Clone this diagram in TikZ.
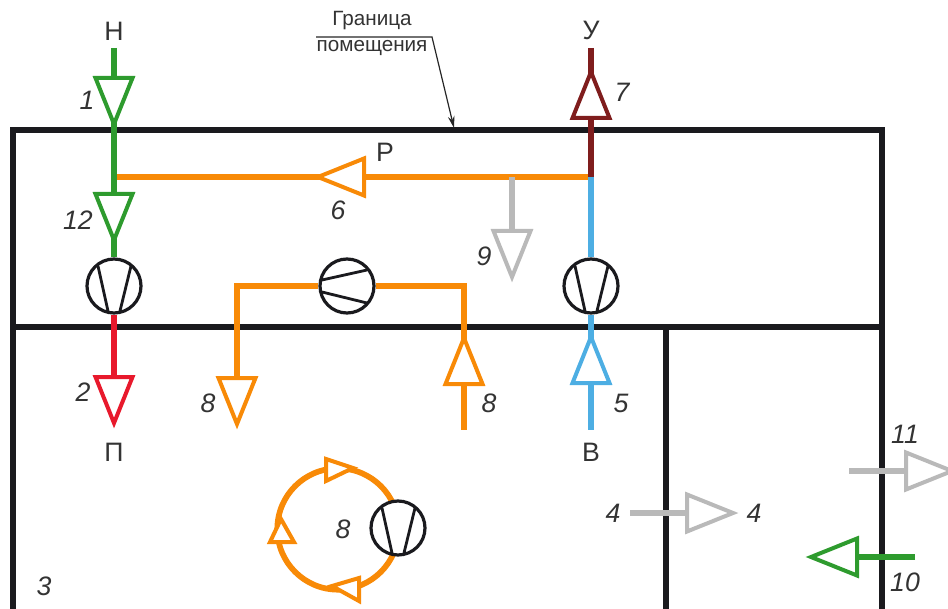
\documentclass[tikz,border=0pt]{standalone}
\usepackage{fontspec}
\setmainfont{Liberation Sans}
\usetikzlibrary{arrows.meta}
\definecolor{cgreen}{HTML}{2E9B2E}
\definecolor{corange}{HTML}{F88A07}
\definecolor{cblue}{HTML}{4DAEE3}
\definecolor{cdred}{HTML}{7F1D1D}
\definecolor{cred}{HTML}{E8192C}
\definecolor{cgrey}{HTML}{B9B9B9}
\definecolor{cink}{HTML}{1A1A1E}
\tikzset{
  wall/.style={line width=3.9pt,draw=cink,line cap=butt,line join=miter},
  pipe/.style={line width=4.3pt,line join=miter},
  tip/.style={line width=3pt,fill=white,line join=miter},
  fanbody/.style={circle,draw=cink,line width=2.4pt,fill=white,minimum size=40.5pt,inner sep=0pt},
  fanblade/.style={draw=cink,line width=2.1pt},
  letter/.style={font=\fontsize{20}{20}\selectfont,text=black!80,inner sep=0pt},
  num/.style={font=\fontsize{20}{20}\selectfont\itshape,text=black!80,inner sep=0pt},
  small/.style={font=\fontsize{15.5}{15.5}\selectfont,text=black!80,inner sep=0pt},
}
\newcommand{\flowtip}[4][46]{\begin{scope}[shift={(#3)},rotate=#4]
  \draw[tip,draw=#2] (0,0) -- (-#1,18.5) -- (-#1,-18.5) -- cycle;
\end{scope}}
\newcommand{\fan}[3]{\node[fanbody] (#1) at (#2) {};
  \begin{scope}[shift={(#1.center)},rotate=#3]
    \draw[fanblade] (-6,25) -- (-16,-20);
    \draw[fanblade] (6,25) -- (17,-20);
  \end{scope}}
\begin{document}
\begin{tikzpicture}[x=0.75pt,y=-0.75pt]
\useasboundingbox (0,0) rectangle (948,609);
% named points
\coordinate (h) at (114,48);
\coordinate (mix) at (114,177);
\coordinate (pout) at (114,380);
\coordinate (ytop) at (591,48);
\coordinate (branch) at (591,177);
\coordinate (vin) at (591,430);
\coordinate (g9) at (512,177);
\coordinate (e9) at (512,232);
\coordinate (o1) at (237,380);
\coordinate (o2) at (237,286);
\coordinate (o3) at (464,286);
\coordinate (o4) at (464,430);
\coordinate (p4a) at (630,513);
\coordinate (p4b) at (690,513);
\coordinate (p11a) at (849,471);
\coordinate (p11b) at (908,471);
\coordinate (p10a) at (915,557);
\coordinate (p10b) at (858,557);
\coordinate (ring) at (338,529);
% walls
\draw[wall] (13,609) -- (13,130) -- (882,130) -- (882,609);
\draw[wall] (13,327) -- (882,327);
\draw[wall] (666,327) -- (666,609);
% fans placed first so that connectors can name them
\fan{fanA}{114,286}{0}
\fan{fanB}{591,286}{0}
\fan{comp}{347,286}{-90}
% ducts
\draw[pipe,corange] (mix) -- (branch);
\draw[pipe,cgreen] (h) -- (fanA.north);
\draw[pipe,cred] (fanA.south) -- (pout);
\draw[pipe,cdred] (ytop) -- (branch);
\draw[pipe,cblue] (branch) -- (fanB.north);
\draw[pipe,cblue] (fanB.south) -- (vin);
\draw[pipe,cgrey] (g9) -- (e9);
\draw[pipe,corange] (o1) -- (o2) -- (comp.west);
\draw[pipe,corange] (comp.east) -- (o3) -- (o4);
\draw[pipe,cgrey] (p4a) -- (p4b);
\draw[pipe,cgrey] (p11a) -- (p11b);
\draw[pipe,cgreen] (p10a) -- (p10b);
\draw[pipe,corange] (ring) circle[radius=45.5pt];
% flow triangles
\flowtip{cgreen}{114,124}{-90}
\flowtip{cgreen}{114,240}{-90}
\flowtip{cred}{114,423}{-90}
\flowtip{cdred}{591,72}{90}
\flowtip{cblue}{591,337}{90}
\flowtip{corange}{318,177}{180}
\flowtip{cgrey}{512,277}{-90}
\flowtip{corange}{237,424}{-90}
\flowtip{corange}{464,338}{90}
\flowtip{cgrey}{733,513}{0}
\flowtip{cgrey}{952,471}{0}
\flowtip{cgreen}{811,557}{180}
\draw[tip,draw=corange] (353,468) -- (326,459) -- (326,481) -- cycle;
\draw[tip,draw=corange] (332,586) -- (359,578) -- (359,601) -- cycle;
\draw[tip,draw=corange] (281,519) -- (270,542) -- (294,542) -- cycle;
\fan{fanC}{398,528}{0}
% boundary callout
\node[small] (gr) at (372,21) {Граница};
\node[small] (pm) at (372,48) {помещения};
\coordinate (c1) at (316,37);
\coordinate (c2) at (432,37);
\coordinate (c3) at (454,128);
\draw[line width=0.9pt,black!85,-{Stealth[length=9pt,width=5pt]}] (c1) -- (c2) -- (c3);
% labels
\node[letter] (lh) at (114,31) {Н};
\node[letter] (ly) at (591,30) {У};
\node[letter] (lr) at (385,152) {Р};
\node[letter] (lp) at (114,452) {П};
\node[letter] (lv) at (591,452) {В};
\node[num] (n1) at (87,100) {1};
\node[num] (n12) at (78,220) {12};
\node[num] (n2) at (83,392) {2};
\node[num] (n6) at (338,210) {6};
\node[num] (n9) at (484,256) {9};
\node[num] (n7) at (622,92) {7};
\node[num] (n5) at (621,403) {5};
\node[num] (n8a) at (208,403) {8};
\node[num] (n8b) at (489,403) {8};
\node[num] (n8c) at (343,529) {8};
\node[num] (n3) at (44,586) {3};
\node[num] (n4a) at (613,513) {4};
\node[num] (n4b) at (754,513) {4};
\node[num] (n11) at (905,434) {11};
\node[num] (n10) at (905,582) {10};
\end{tikzpicture}
\end{document}
